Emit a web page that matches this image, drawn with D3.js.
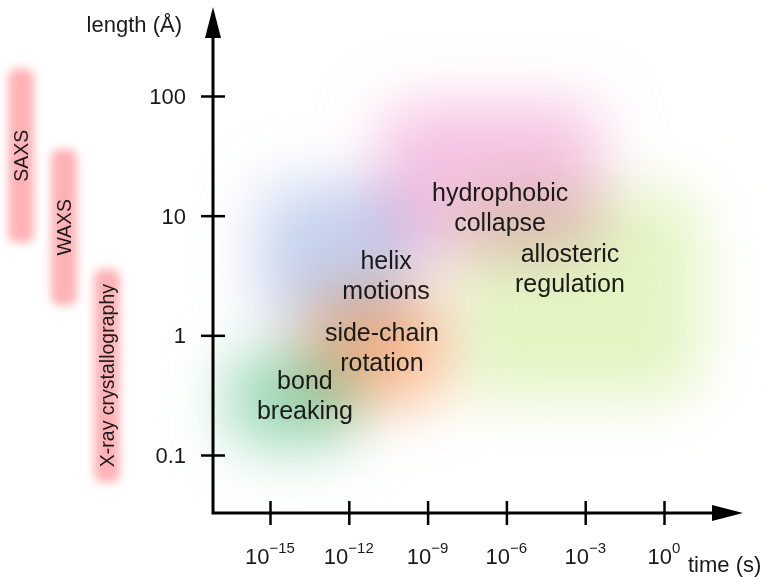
<!DOCTYPE html>
<html>
<head>
<meta charset="utf-8">
<script src="https://cdn.jsdelivr.net/npm/d3@7"></script>
<style>
  body { margin: 0; background: #fff; }
  svg { font-family: "Liberation Sans", Arial, Helvetica, sans-serif; }
</style>
</head>
<body>
<svg id="chart" width="774" height="577"></svg>
<script>
// time ticks (s) and length ticks (Angstrom)
var timeTicks = [1e-15, 1e-12, 1e-9, 1e-6, 1e-3, 1];
var timeExps = ["\u221215", "\u221212", "\u22129", "\u22126", "\u22123", "0"];
var lengthTicks = [0.1, 1, 10, 100];
var lengthLabels = ["0.1", "1", "10", "100"];

// processes: time range (s), length range (A), label anchor
var processes = ["allosteric regulation", "hydrophobic collapse", "helix motions", "side-chain rotation", "bond breaking"];
var timeStart = [10 ** -7.8, 10 ** -10.8, 10 ** -15.4, 10 ** -13.6, 10 ** -16.6];
var timeEnd = [10 ** 1.4, 10 ** -2.4, 10 ** -9.6, 10 ** -8.3, 10 ** -11.7];
var lenStart = [0.3, 4.6, 1.25, 0.27, 0.12];
var lenEnd = [16, 85, 18, 2.3, 0.72];
var labelTime = [10 ** -3.58, 10 ** -6.24, 10 ** -10.58, 10 ** -10.74, 10 ** -13.67];
var labelLen = [3.56, 11.6, 3.11, 0.787, 0.309];
var colors = ["#e3f5c3", "#f6c2e3", "#c6d2ee", "#fcb98e", "#98d8b4"];

// techniques: length range (A)
var techniques = ["SAXS", "WAXS", "X-ray crystallography"];
var techStart = [5.9, 1.78, 0.059];
var techEnd = [170, 36, 3.6];

var svg = d3.select('#chart');

var x = d3.scaleLog().domain([1e-15, 1]).range([270, 664]);
var y = d3.scaleLog().domain([0.1, 100]).range([455, 96]);

var x0 = 213, y0 = 513;

var defs = svg.append('defs');
defs.append('filter').attr('id', 'soft')
    .attr('filterUnits', 'userSpaceOnUse')
    .attr('x', 0).attr('y', 0).attr('width', 774).attr('height', 577)
    .append('feGaussianBlur').attr('stdDeviation', 30);
defs.append('filter').attr('id', 'softBar')
    .attr('x', '-80%').attr('y', '-20%').attr('width', '260%').attr('height', '140%')
    .append('feGaussianBlur').attr('stdDeviation', 5);

svg.append('rect').attr('width', 774).attr('height', 577).attr('fill', '#fff');

// Fuzzy process regions
svg.append('g')
    .selectAll('rect')
    .data(processes)
    .enter()
    .append('rect')
    .attr('x', function(d, i) { return x(timeStart[i]); })
    .attr('width', function(d, i) { return x(timeEnd[i]) - x(timeStart[i]); })
    .attr('y', function(d, i) { return y(lenEnd[i]); })
    .attr('height', function(d, i) { return y(lenStart[i]) - y(lenEnd[i]); })
    .attr('rx', 30)
    .attr('fill', function(d, i) { return colors[i]; })
    .attr('filter', 'url(#soft)')
    .style('mix-blend-mode', 'multiply');

// Technique bars on the left
var barX = [21, 64, 107];
var tech = svg.append('g');
tech.selectAll('rect')
    .data(techniques)
    .enter()
    .append('rect')
    .attr('x', function(d, i) { return barX[i] - 13; })
    .attr('width', 26)
    .attr('y', function(d, i) { return y(techEnd[i]); })
    .attr('height', function(d, i) { return y(techStart[i]) - y(techEnd[i]); })
    .attr('rx', 9)
    .attr('fill', '#ffb2b6')
    .attr('filter', 'url(#softBar)');
tech.selectAll('text')
    .data(techniques)
    .enter()
    .append('text')
    .attr('transform', function(d, i) {
        return 'translate(' + (barX[i] + 7) + ',' + ((y(techStart[i]) + y(techEnd[i])) / 2) + ') rotate(-90)';
    })
    .attr('text-anchor', 'middle')
    .attr('font-size', 19.5)
    .attr('fill', '#1a1a1a')
    .text(function(d) { return d; });

// Process labels
svg.append('g')
    .selectAll('text')
    .data(processes)
    .enter()
    .append('text')
    .attr('text-anchor', 'middle')
    .attr('font-size', 25)
    .attr('fill', '#1a1a1a')
    .each(function(d, i) {
        var words = d.split(' ');
        var t = d3.select(this);
        words.forEach(function(w, k) {
            t.append('tspan')
                .attr('x', x(labelTime[i]))
                .attr('y', y(labelLen[i]) + (k - (words.length - 1) / 2) * 30 + 8)
                .text(w);
        });
    });

// Axes
var xAxis = svg.append('g')
    .attr('transform', 'translate(0,' + y0 + ')')
    .call(d3.axisBottom(x).tickValues(timeTicks).tickSize(12).tickFormat(''));
xAxis.select('.domain').remove();
xAxis.selectAll('.tick line').attr('y1', -12).attr('y2', 12).attr('stroke', '#000').attr('stroke-width', 2.5);

var yAxis = svg.append('g')
    .attr('transform', 'translate(' + x0 + ',0)')
    .call(d3.axisLeft(y).tickValues(lengthTicks).tickSize(12).tickFormat(''));
yAxis.select('.domain').remove();
yAxis.selectAll('.tick line').attr('x1', -12).attr('x2', 12).attr('stroke', '#000').attr('stroke-width', 2.5);

svg.append('path')
    .attr('d', 'M' + x0 + ',30 L' + x0 + ',' + y0 + ' L735,' + y0)
    .attr('fill', 'none')
    .attr('stroke', '#000')
    .attr('stroke-width', 3);
svg.append('path').attr('d', 'M' + x0 + ',7 L' + (x0 - 8) + ',38 L' + (x0 + 8) + ',38 Z').attr('fill', '#000');
svg.append('path').attr('d', 'M743,' + y0 + ' L712,' + (y0 - 8) + ' L712,' + (y0 + 8) + ' Z').attr('fill', '#000');

// Tick labels
svg.append('g')
    .selectAll('text')
    .data(timeTicks)
    .enter()
    .append('text')
    .attr('x', function(d) { return x(d); })
    .attr('y', 564)
    .attr('text-anchor', 'middle')
    .attr('font-size', 22)
    .attr('fill', '#1a1a1a')
    .each(function(d, i) {
        var t = d3.select(this);
        t.append('tspan').text('10');
        t.append('tspan').attr('font-size', 15).attr('dy', -11).text(timeExps[i]);
    });

svg.append('g')
    .selectAll('text')
    .data(lengthTicks)
    .enter()
    .append('text')
    .attr('x', 186)
    .attr('y', function(d) { return y(d) + 8; })
    .attr('text-anchor', 'end')
    .attr('font-size', 22)
    .attr('fill', '#1a1a1a')
    .text(function(d, i) { return lengthLabels[i]; });

svg.append('text').attr('x', 182).attr('y', 32).attr('text-anchor', 'end')
    .attr('font-size', 22).attr('fill', '#1a1a1a').text('length (\u00c5)');
svg.append('text').attr('x', 688).attr('y', 572)
    .attr('font-size', 22).attr('fill', '#1a1a1a').text('time (s)');
</script>
</body>
</html>
